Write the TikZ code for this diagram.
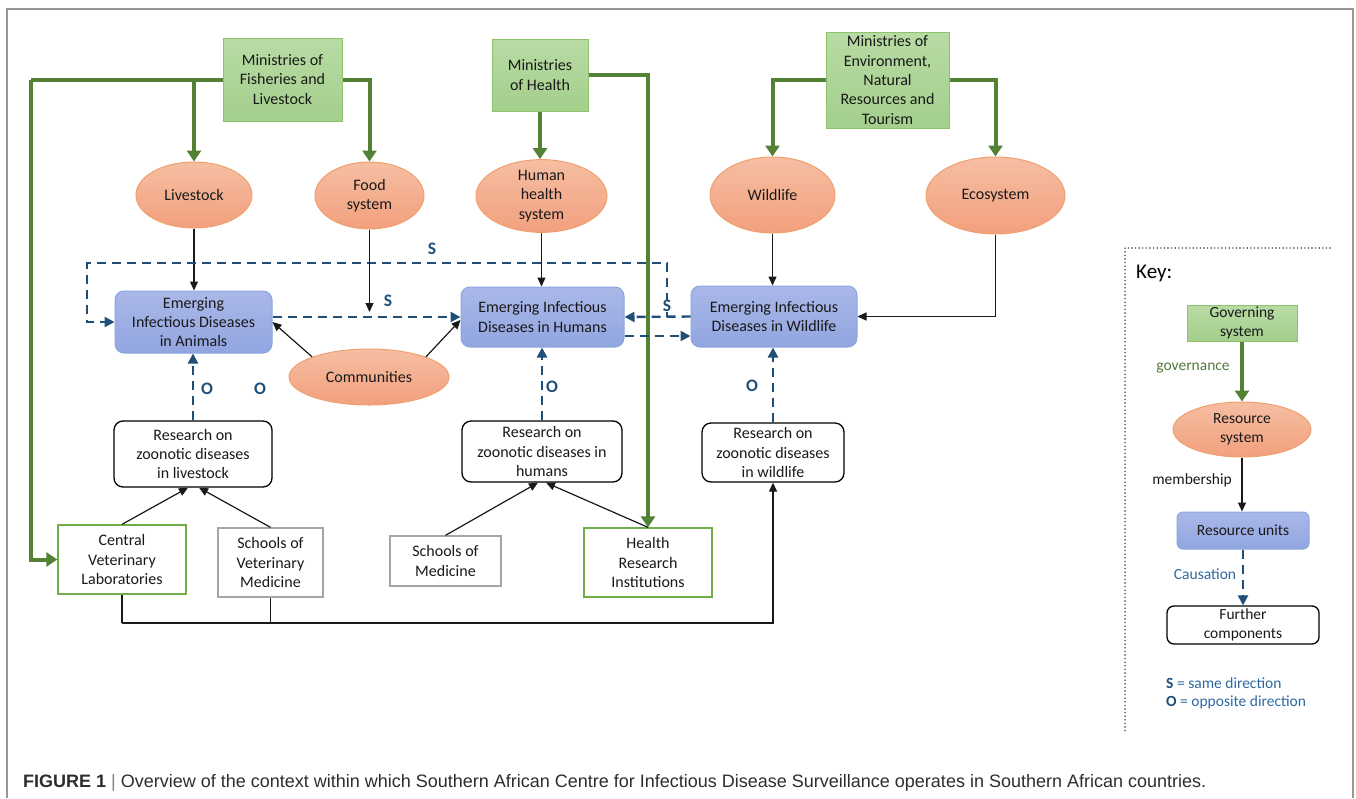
\documentclass[tikz,border=0pt]{standalone}
\usepackage{fontspec}
\usepackage{graphicx}
\setmainfont{Carlito}
\newfontfamily\capfont{Liberation Sans}
\usetikzlibrary{shapes.geometric,arrows.meta,calc}
\definecolor{govtop}{RGB}{184,219,164}
\definecolor{govbot}{RGB}{164,207,140}
\definecolor{govdraw}{RGB}{140,196,110}
\definecolor{garrow}{RGB}{84,130,53}
\definecolor{restop}{RGB}{246,190,162}
\definecolor{resbot}{RGB}{242,160,126}
\definecolor{resdraw}{RGB}{240,160,110}
\definecolor{eidtop}{RGB}{170,184,232}
\definecolor{eidbot}{RGB}{145,165,224}
\definecolor{eiddraw}{RGB}{140,166,224}
\definecolor{dblue}{RGB}{31,78,121}
\definecolor{lblue}{RGB}{46,104,160}
\definecolor{cvlgreen}{RGB}{112,173,71}
\definecolor{boxgray}{RGB}{165,165,165}
\definecolor{framegray}{RGB}{150,150,150}
\definecolor{olivegreen}{RGB}{84,120,60}
\definecolor{capgray}{RGB}{45,45,45}
\begin{document}
\begin{tikzpicture}[x=1pt,y=-1pt,
  nf/.style={font=\fontsize{16pt}{19.3pt}\selectfont, text=black!90, align=center, inner sep=0pt},
  gov/.style={nf, rectangle, draw=govdraw, line width=1pt, top color=govtop, bottom color=govbot},
  res/.style={nf, ellipse, draw=resdraw, line width=1pt, top color=restop, bottom color=resbot},
  eid/.style={nf, rectangle, rounded corners=9pt, draw=eiddraw, line width=1pt, top color=eidtop, bottom color=eidbot},
  rsch/.style={nf, rectangle, rounded corners=9pt, draw=black, line width=1.3pt, fill=white},
  inst/.style={nf, rectangle, draw=cvlgreen, line width=1.3pt, fill=white},
  school/.style={nf, rectangle, draw=boxgray, line width=1.3pt, fill=white},
  blk/.style={draw=black!90, line width=1.2pt, -{Triangle[length=9pt,width=8pt]}},
  blkline/.style={draw=black!90, line width=1.2pt},
  gar/.style={draw=garrow, line width=4pt, -{Triangle[length=11pt,width=14pt]}},
  garline/.style={draw=garrow, line width=4pt},
  dbl/.style={draw=dblue, line width=2.4pt, dash pattern=on 9pt off 6pt},
  darr/.style={dbl, -{Triangle[length=10pt,width=10pt]}},
  lab/.style={font=\bfseries\fontsize{17.5pt}{20pt}\selectfont, text=dblue, inner sep=1pt},
  keylab/.style={font=\fontsize{15.5pt}{19pt}\selectfont, inner sep=0pt}
]
\useasboundingbox (0,0) rectangle (1356,798);
% frame
\draw[framegray, line width=1.2pt] (7,798) -- (7,9) -- (1353,9) -- (1353,798);

% governing systems
\node[gov, minimum width=119pt, minimum height=83pt] (mofl) at (282.5,79.5) {Ministries of\\Fisheries and\\Livestock};
\node[gov, minimum width=96pt, minimum height=72pt] (moh) at (540,75) {Ministries\\of Health};
\node[gov, minimum width=123pt, minimum height=96pt] (moe) at (887.5,80) {Ministries of\\Environment,\\Natural\\Resources and\\Tourism};

% resource systems
\node[res, minimum width=116pt, minimum height=66pt] (live) at (194,195) {Livestock};
\node[res, minimum width=109pt, minimum height=67pt] (food) at (369.5,195.5) {Food\\system};
\node[res, minimum width=131pt, minimum height=68pt] (hhs) at (541.5,196) {Human\\health\\system};
\node[res, minimum width=125pt, minimum height=76pt] (wild) at (772.5,195) {Wildlife};
\node[res, minimum width=139pt, minimum height=77pt] (eco) at (995.5,195.5) {Ecosystem};
\node[res, minimum width=160pt, minimum height=56pt] (comm) at (369,377) {Communities};

% resource units
\node[eid, minimum width=157pt, minimum height=62pt] (ani) at (193.5,322) {Emerging\\Infectious Diseases\\in Animals};
\node[eid, minimum width=163pt, minimum height=60pt] (hum) at (542.5,317) {Emerging Infectious\\Diseases in Humans};
\node[eid, minimum width=166pt, minimum height=61pt] (wbox) at (774,316.5) {Emerging Infectious\\Diseases in Wildlife};

% research
\node[rsch, minimum width=158pt, minimum height=66pt] (rl) at (193,454) {Research on\\zoonotic diseases\\in livestock};
\node[rsch, minimum width=160pt, minimum height=61pt] (rh) at (542,451.5) {Research on\\zoonotic diseases in\\humans};
\node[rsch, minimum width=142pt, minimum height=59pt] (rw) at (773,452.5) {Research on\\zoonotic diseases\\in wildlife};

% institutions
\node[inst, minimum width=128pt, minimum height=69pt] (cvl) at (122,559.5) {Central\\Veterinary\\Laboratories};
\node[school, minimum width=105pt, minimum height=69pt] (svm) at (270.5,562.5) {Schools of\\Veterinary\\Medicine};
\node[school, minimum width=111pt, minimum height=50pt] (som) at (445.5,561) {Schools of\\Medicine};
\node[inst, minimum width=128pt, minimum height=69pt] (hri) at (648,562.5) {Health\\Research\\Institutions};

% green governance arrows
\coordinate (gl) at (31,79.5);
\draw[garline] (mofl.west) -- (gl);
\draw[gar] (gl) |- (cvl.west);
\draw[gar] (live.north |- mofl.west) -- (live.north);
\draw[gar] (mofl.east) -| (food.north);
\draw[gar] (moh.south) -- (moh.south |- hhs.north);
\draw[gar] (moh.east) -| (hri.north);
\draw[gar] (moe.west) -| (wild.north);
\draw[gar] (moe.east) -| (eco.north);

% black membership arrows
\draw[blk] (live.south) -- (live.south |- ani.north);
\draw[blk] (hhs.south) -- (hhs.south |- hum.north);
\draw[blk] (wild.south) -- (wild.south |- wbox.north);
\draw[blk] (eco.south) |- (wbox.east);
\draw[blk] (comm.north west) -- (ani.east);
\draw[blk] (comm.north east) -- ([yshift=-3pt]hum.west);

% research inputs
\draw[blk] (cvl.north) -- ([xshift=-5pt]rl.south);
\draw[blk] (svm.north) -- ([xshift=6pt]rl.south);
\draw[blk] (som.north) -- ([xshift=-4pt]rh.south);
\draw[blk] (hri.north) -- ([xshift=4pt]rh.south);
\coordinate (bl) at (122,623);
\draw[blkline] (cvl.south) -- (bl);
\draw[blk] (bl) -| (rw.south);
\draw[blkline] (svm.south) -- (svm.south |- bl);

% dashed causation arrows
\draw[darr] (rl.north) -- (rl.north |- ani.south);
\draw[darr] (rh.north) -- (rh.north |- hum.south);
\draw[darr] (rw.north) -- (rw.north |- wbox.south);
\draw[darr] (ani.east |- hum.west) -- (hum.west);
\draw[darr] (wbox.west) -- (hum.east);
\draw[darr] ([yshift=-19pt]hum.east) -- ([yshift=-19pt]hum.east -| wbox.west);
\coordinate (sj) at (667,316.5);
\draw[darr] (sj) -- (667,263) -- (87,263) -- (87,322) -- (ani.west);

% food arrow onto dashed line
\draw[blk] (food.south) -- (369.5,312);

% labels
\node[lab] at (432,249) {S};
\node[lab] at (388,301) {S};
\node[lab, fill=white, inner sep=0.5pt] at (667,306) {S};
\node[lab] at (207,389) {O};
\node[lab] at (260,389) {O};
\node[lab] at (552,387) {O};
\node[lab] at (752,386) {O};

% key
\draw[black!80, line width=1.6pt, line cap=round, dash pattern=on 0pt off 3.6pt] (1330,248) -- (1125,248) -- (1125,733);
\node[anchor=west, inner sep=0pt, font=\fontsize{21pt}{24pt}\selectfont] (keyt) at (1136,273) {Key:};
\node[gov, font=\fontsize{15.5pt}{19pt}\selectfont, minimum width=110pt, minimum height=36pt] (kgs) at (1242,323) {Governing\\system};
\node[res, font=\fontsize{15.5pt}{19pt}\selectfont, minimum width=138pt, minimum height=55pt] (krs) at (1242,429.5) {Resource\\system};
\node[eid, font=\fontsize{15.5pt}{19pt}\selectfont, rounded corners=6pt, minimum width=132pt, minimum height=37pt] (kru) at (1243,530.5) {Resource units};
\node[rsch, font=\fontsize{15.5pt}{19pt}\selectfont, rounded corners=7pt, minimum width=152pt, minimum height=38pt] (kfc) at (1243,625) {Further\\components};
\draw[gar, line width=3.5pt] (kgs.south) -- (krs.north);
\draw[blk] (krs.south) -- (krs.south |- kru.north);
\draw[darr] (kru.south) -- (kfc.north);
\node[keylab, text=olivegreen] at (1193,368) {governance};
\node[keylab, text=black!90] at (1192,480) {membership};
\node[keylab, text=lblue] at (1205,574) {Causation};
\node[keylab, anchor=west, text=lblue] at (1166,683) {\textbf{\color{dblue}S} = same direction};
\node[keylab, anchor=west, text=lblue] at (1166,702) {\textbf{\color{dblue}O} = opposite direction};

% caption
\node[anchor=base west, inner sep=0pt, text=capgray] (cap) at (23,787) {\resizebox{1183pt}{!}{\capfont\fontsize{16.5pt}{18pt}\selectfont\textbf{FIGURE 1} {\color{black!50}|} Overview of the context within which Southern African Centre for Infectious Disease Surveillance operates in Southern African countries.}};
\end{tikzpicture}
\end{document}
